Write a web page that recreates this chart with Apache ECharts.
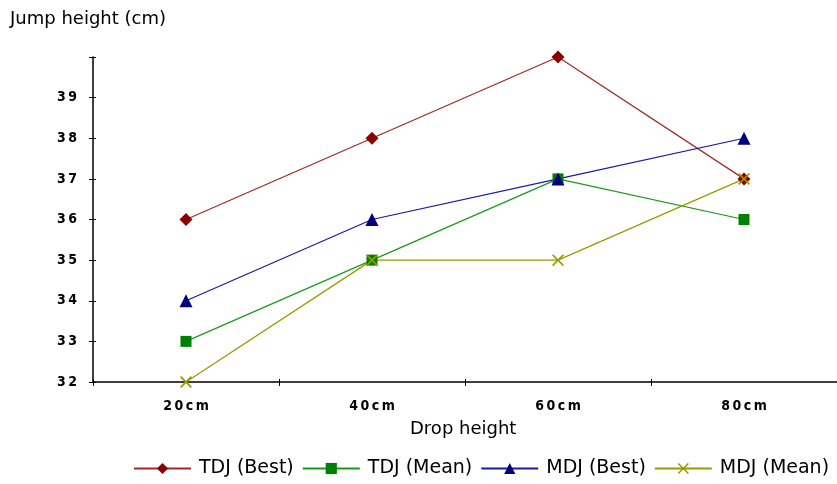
<!DOCTYPE html>
<html>
<head>
<meta charset="utf-8">
<script src="https://cdn.jsdelivr.net/npm/echarts@6/dist/echarts.min.js"></script>
<style>
  html, body { margin: 0; padding: 0; background: #fff; }
  #chart { width: 837px; height: 484px; }
</style>
</head>
<body>
<div id="chart"></div>
<script>
const categories = ['20 cm', '40 cm', '60 cm', '80 cm'];
const tdjBest = [36, 38, 40, 37];
const tdjMean = [33, 35, 37, 36];
const mdjBest = [34, 36, 37, 38];
const mdjMean = [32, 35, 35, 37];

const chart = echarts.init(document.getElementById('chart'));

// thin "x" drawn as a filled path
const crossPath = 'path://M0,1L1,0L5,4L9,0L10,1L6,5L10,9L9,10L5,6L1,10L0,9L4,5Z';
const tickFont = '"Liberation Sans Narrow", "Arial Narrow", "DejaVu Sans Condensed", sans-serif';
const textFont = '"DejaVu Sans", Verdana, sans-serif';
// spread the tick label characters a little
const spread = s => s.replace(/ /g, '').split('').join('\u2009');

const mkSeries = (name, data, color, lineColor, symbol, size) => ({
    name: name,
    type: 'line',
    data: data,
    symbol: symbol,
    symbolSize: size,
    showSymbol: true,
    lineStyle: { color: lineColor, width: 1.2 },
    itemStyle: { color: color, borderWidth: 0 },
    emphasis: { disabled: true },
    animation: false
});

const option = {
    backgroundColor: '#fff',
    textStyle: { fontFamily: textFont },
    grid: { left: 93, top: 57, width: 749, height: 325 },
    graphic: [
        { type: 'text', left: 10, top: 10, style: { text: 'Jump height (cm)', font: '18px ' + textFont, fill: '#000' } },
        { type: 'text', left: 410, top: 420, style: { text: 'Drop height', font: '18px ' + textFont, fill: '#000' } }
    ],
    legend: {
        bottom: 6,
        left: 133,
        padding: 0,
        itemGap: 8,
        itemWidth: 57,
        itemHeight: 14,
        textStyle: { fontSize: 19, color: '#000', fontFamily: textFont, padding: [0, 0, 0, 3] },
        data: ['TDJ (Best)', 'TDJ (Mean)', 'MDJ (Best)', 'MDJ (Mean)']
    },
    xAxis: [
        {
            type: 'category',
            data: categories,
            boundaryGap: true,
            axisLine: { lineStyle: { color: '#000', width: 1.5 } },
            axisTick: { show: true, length: 4, lineStyle: { color: '#000' } },
            axisLabel: {
                color: '#000', fontSize: 14, fontWeight: 'bold', margin: 17,
                fontFamily: tickFont, formatter: v => spread(v)
            },
            splitLine: { show: false }
        },
        {
            // inner half of the crossing ticks
            type: 'category',
            data: categories,
            position: 'bottom',
            boundaryGap: true,
            axisLine: { show: false },
            axisTick: { show: true, inside: true, length: 3, lineStyle: { color: '#000' } },
            axisLabel: { show: false },
            splitLine: { show: false }
        }
    ],
    yAxis: [
        {
            type: 'value',
            min: 32,
            max: 40,
            interval: 1,
            axisLine: { show: true, lineStyle: { color: '#000', width: 1.5 } },
            axisTick: { show: true, length: 4, lineStyle: { color: '#000' } },
            axisLabel: {
                color: '#000', fontSize: 14, fontWeight: 'bold', margin: 16,
                fontFamily: tickFont,
                formatter: v => (v === 40 ? '' : spread(v.toString()))
            },
            splitLine: { show: false }
        },
        {
            type: 'value',
            min: 32,
            max: 40,
            interval: 1,
            position: 'left',
            axisLine: { show: false },
            axisTick: { show: true, inside: true, length: 3, lineStyle: { color: '#000' } },
            axisLabel: { show: false },
            splitLine: { show: false }
        }
    ],
    series: [
        mkSeries('TDJ (Best)', tdjBest, '#8b0000', '#a02828', 'diamond', 13),
        mkSeries('TDJ (Mean)', tdjMean, '#008000', '#1a9a1a', 'rect', 11),
        mkSeries('MDJ (Best)', mdjBest, '#000080', '#1a1a9a', 'triangle', 13),
        mkSeries('MDJ (Mean)', mdjMean, '#999900', '#999900', crossPath, 12)
    ]
};

chart.setOption(option);
</script>
</body>
</html>
